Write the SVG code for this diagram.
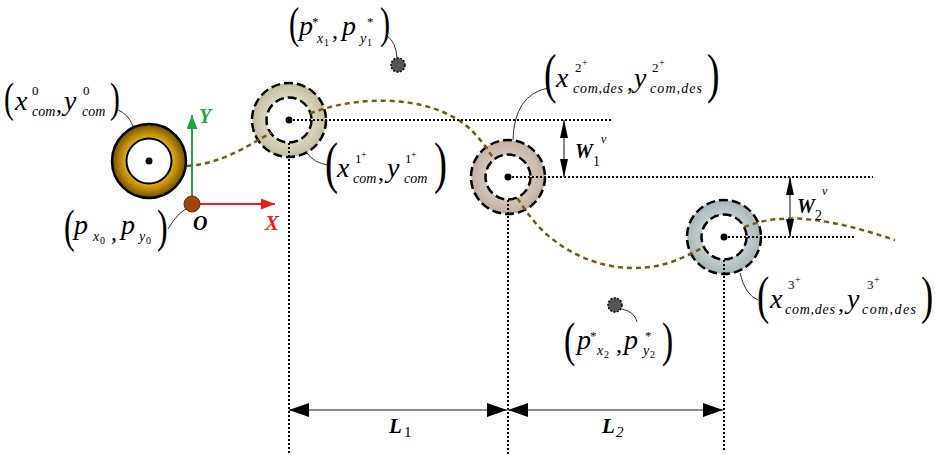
<svg xmlns="http://www.w3.org/2000/svg" width="935" height="455" viewBox="0 0 935 455">
<style>
.m{font-family:"Liberation Serif","Times New Roman",serif;font-style:italic;fill:#000}
.big{font-size:28px}
.sub{font-size:14px}
.ss{font-size:10px;font-style:normal}
.sup{font-size:13px;font-style:normal}
.pl{font-size:10px;font-style:normal}
.cm{font-size:24px;font-style:normal}
.up{font-style:normal}
.par{font-family:"Liberation Serif","Times New Roman",serif;fill:#000}
.bi{font-family:"Liberation Serif","Times New Roman",serif;font-style:italic;font-weight:bold}
.dot{stroke:#000;stroke-width:2;stroke-dasharray:2 2;fill:none}
.ringd{stroke:#000;stroke-width:2.5;stroke-dasharray:9 4}
.lead{fill:none;stroke:#333;stroke-width:1}
.dim{stroke:#666;stroke-width:1.6;fill:none}
</style>
<defs>
<radialGradient id="g0" cx="0.5" cy="0.5" r="0.5">
<stop offset="0.58" stop-color="#e6b522"/>
<stop offset="0.75" stop-color="#c08f0c"/>
<stop offset="1" stop-color="#6e4f00"/>
</radialGradient>
<radialGradient id="g1" cx="0.5" cy="0.5" r="0.5">
<stop offset="0.6" stop-color="#ddd8c2"/>
<stop offset="1" stop-color="#c4bea2"/>
</radialGradient>
<radialGradient id="g2" cx="0.5" cy="0.5" r="0.5">
<stop offset="0.6" stop-color="#d6c8be"/>
<stop offset="1" stop-color="#c0afa3"/>
</radialGradient>
<radialGradient id="g3" cx="0.5" cy="0.5" r="0.5">
<stop offset="0.6" stop-color="#c4cfd1"/>
<stop offset="1" stop-color="#a9b6b9"/>
</radialGradient>
<marker id="ah" viewBox="0 0 20 14" refX="20" refY="7" markerWidth="20" markerHeight="14" markerUnits="userSpaceOnUse" orient="auto-start-reverse">
<path d="M0,0 L20,7 L0,14 Z" fill="#000"/>
</marker>
<marker id="as" viewBox="0 0 18 8" refX="18" refY="4" markerWidth="18" markerHeight="8" markerUnits="userSpaceOnUse" orient="auto-start-reverse">
<path d="M0,0 L18,4 L0,8 Z" fill="#000"/>
</marker>
<marker id="ag" viewBox="0 0 14 11" refX="14" refY="5.5" markerWidth="14" markerHeight="11" markerUnits="userSpaceOnUse" orient="auto">
<path d="M0,0 L14,5.5 L0,11 Z" fill="#1fa64a"/>
</marker>
<marker id="ar" viewBox="0 0 14 11" refX="14" refY="5.5" markerWidth="14" markerHeight="11" markerUnits="userSpaceOnUse" orient="auto">
<path d="M0,0 L14,5.5 L0,11 Z" fill="#ee1c1c"/>
</marker>
<mask id="holes" maskUnits="userSpaceOnUse" x="0" y="0" width="935" height="455">
<rect x="0" y="0" width="935" height="455" fill="#fff"/>
<circle cx="289" cy="120" r="22" fill="#000"/>
<circle cx="508" cy="177" r="22" fill="#000"/>
<circle cx="724" cy="237" r="22" fill="#000"/>
</mask>
</defs>
<rect width="935" height="455" fill="#fff"/>

<g id="node-c0">
<circle cx="149" cy="161" r="37" fill="url(#g0)" stroke="#000" stroke-width="2.5"/>
<circle cx="149" cy="161" r="22.5" fill="#fff" stroke="#000" stroke-width="2"/>
<circle cx="149" cy="161" r="3.5" fill="#000"/>
</g>
<g id="node-c1">
<circle cx="289" cy="120" r="37" fill="url(#g1)" class="ringd"/>
<circle cx="289" cy="120" r="22.5" fill="#fff" class="ringd"/>
</g>
<g id="node-c2">
<circle cx="508" cy="177" r="37" fill="url(#g2)" class="ringd"/>
<circle cx="508" cy="177" r="22.5" fill="#fff" class="ringd"/>
</g>
<g id="node-c3">
<circle cx="724" cy="237" r="37" fill="url(#g3)" class="ringd"/>
<circle cx="724" cy="237" r="22.5" fill="#fff" class="ringd"/>
</g>
<g id="node-p1">
<circle cx="398" cy="65" r="7" fill="#555" stroke="#000" stroke-width="1.5" stroke-dasharray="2 1.5"/>
</g>
<g id="node-p2">
<circle cx="615" cy="305" r="7" fill="#555" stroke="#000" stroke-width="1.5" stroke-dasharray="2 1.5"/>
</g>

<g id="connectors">
<path d="M187,166 C240,162 265,128 320,110 C360,97 420,95 460,121 C495,145 505,190 540,228 C570,258 610,272 650,267 C690,262 720,232 760,222 C800,212 850,225 895,240" fill="none" stroke="#7a5a12" stroke-width="2.5" stroke-dasharray="5 4" mask="url(#holes)"/>
<line x1="289" y1="120" x2="613" y2="120" class="dot"/>
<line x1="508" y1="177" x2="873" y2="177" class="dot"/>
<line x1="724" y1="237" x2="855" y2="237" class="dot"/>
<line x1="289" y1="143" x2="289" y2="455" class="dot"/>
<line x1="508" y1="200" x2="508" y2="455" class="dot"/>
<line x1="724" y1="260" x2="724" y2="452" class="dot"/>
<line x1="192" y1="196" x2="192" y2="115" stroke="#1fa64a" stroke-width="2" marker-end="url(#ag)"/>
<line x1="199" y1="204" x2="275" y2="204" stroke="#ee1c1c" stroke-width="2" marker-end="url(#ar)"/>
<line x1="289" y1="410" x2="507" y2="410" class="dim" marker-start="url(#ah)" marker-end="url(#ah)"/>
<line x1="508" y1="410" x2="723" y2="410" class="dim" marker-start="url(#ah)" marker-end="url(#ah)"/>
<line x1="564" y1="120" x2="564" y2="177" class="dim" marker-start="url(#as)" marker-end="url(#as)"/>
<line x1="790" y1="177" x2="790" y2="237" class="dim" marker-start="url(#as)" marker-end="url(#as)"/>
<path d="M118,110 Q128,114 133,126" class="lead"/>
<path d="M387,36 Q396,42 397,58" class="lead"/>
<path d="M307,153 Q314,163 328,165" class="lead"/>
<path d="M168,229 Q178,212 188,208" class="lead"/>
<path d="M548,88 Q514,95 513,140" class="lead"/>
<path d="M740,273 Q745,295 758,300" class="lead"/>
<path d="M622,309 Q635,312 637,322" class="lead"/>
</g>

<g id="centers">
<circle cx="289" cy="120" r="3.5" fill="#000"/>
<circle cx="508" cy="177" r="3.5" fill="#000"/>
<circle cx="724" cy="237" r="3.5" fill="#000"/>
</g>

<g id="node-origin">
<circle cx="192" cy="204" r="8" fill="#a3440e" stroke="#6a2a05" stroke-width="1"/>
<text class="bi" x="193" y="230" font-size="20">O</text>
<text class="bi" x="199" y="123" font-size="20" fill="#1fa64a">Y</text>
<text class="bi" x="265" y="230" font-size="21" fill="#ee1c1c">X</text>
</g>

<g id="label-c0">
<text class="par" font-size="37" transform="translate(4,112) scale(0.8,1.15)">(</text>
<text class="m"><tspan class="big" x="15" y="110">x</tspan><tspan class="sup" x="32" y="95">0</tspan><tspan class="sub" x="32" y="116">com</tspan><tspan class="cm" x="56" y="112">,</tspan><tspan class="big" x="64" y="110">y</tspan><tspan class="sup" x="83" y="95">0</tspan><tspan class="sub" x="82" y="116">com</tspan></text>
<text class="par" font-size="37" transform="translate(110,112) scale(0.8,1.15)">)</text>
</g>

<g id="label-p1">
<text class="par" font-size="38" transform="translate(289,38) scale(0.8,1.15)">(</text>
<text class="m"><tspan class="big" x="299" y="35">p</tspan><tspan class="sup" x="312" y="26">*</tspan><tspan class="sub" x="317" y="43">x</tspan><tspan class="ss" x="324" y="46">1</tspan><tspan class="cm" x="332" y="38">,</tspan><tspan class="big" x="342" y="35">p</tspan><tspan class="sup" x="367" y="26">*</tspan><tspan class="sub" x="360" y="43">y</tspan><tspan class="ss" x="367" y="46">1</tspan></text>
<text class="par" font-size="38" transform="translate(380,38) scale(0.8,1.15)">)</text>
</g>

<g id="label-c1">
<text class="par" font-size="49" transform="translate(325,182) scale(0.8,1.15)">(</text>
<text class="m"><tspan class="big" x="337" y="177">x</tspan><tspan class="sup" x="355" y="163">1</tspan><tspan class="pl" x="361" y="158">+</tspan><tspan class="sub" x="353" y="183">com</tspan><tspan class="cm" x="378" y="180">,</tspan><tspan class="big" x="387" y="177">y</tspan><tspan class="sup" x="405" y="163">1</tspan><tspan class="pl" x="411" y="158">+</tspan><tspan class="sub" x="404" y="183">com</tspan></text>
<text class="par" font-size="49" transform="translate(434,182) scale(0.8,1.15)">)</text>
</g>

<g id="label-origin">
<text class="par" font-size="40" transform="translate(64,242) scale(0.8,1.15)">(</text>
<text class="m"><tspan class="big" x="74" y="234">p</tspan><tspan class="sub" x="93" y="241">x</tspan><tspan class="ss" x="100" y="244">0</tspan><tspan class="cm" x="111" y="240">,</tspan><tspan class="big" x="121" y="234">p</tspan><tspan class="sub" x="139" y="241">y</tspan><tspan class="ss" x="146" y="244">0</tspan></text>
<text class="par" font-size="40" transform="translate(157,242) scale(0.8,1.15)">)</text>
</g>

<g id="label-c2">
<text class="par" font-size="47" transform="translate(544,92) scale(0.8,1.15)">(</text>
<text class="m"><tspan class="big" x="556" y="87">x</tspan><tspan class="sup" x="575" y="72">2</tspan><tspan class="pl" x="582" y="66">+</tspan><tspan class="sub" x="573" y="93" textLength="50">com,des</tspan><tspan class="cm" x="627" y="90">,</tspan><tspan class="big" x="634" y="87">y</tspan><tspan class="sup" x="652" y="72">2</tspan><tspan class="pl" x="659" y="66">+</tspan><tspan class="sub" x="650" y="93" textLength="52">com,des</tspan></text>
<text class="par" font-size="47" transform="translate(707,92) scale(0.8,1.15)">)</text>
</g>

<g id="label-c3">
<text class="par" font-size="46" transform="translate(757,313) scale(0.8,1.15)">(</text>
<text class="m"><tspan class="big" x="770" y="308">x</tspan><tspan class="sup" x="788" y="289">3</tspan><tspan class="pl" x="795" y="283">+</tspan><tspan class="sub" x="785" y="314" textLength="50">com,des</tspan><tspan class="cm" x="838" y="311">,</tspan><tspan class="big" x="847" y="308">y</tspan><tspan class="sup" x="867" y="289">3</tspan><tspan class="pl" x="874" y="283">+</tspan><tspan class="sub" x="862" y="314" textLength="54">com,des</tspan></text>
<text class="par" font-size="46" transform="translate(921,313) scale(0.8,1.15)">)</text>
</g>

<g id="label-p2">
<text class="par" font-size="42" transform="translate(564,356) scale(0.8,1.15)">(</text>
<text class="m"><tspan class="big" x="577" y="349">p</tspan><tspan class="sup" x="590" y="340">*</tspan><tspan class="sub" x="597" y="355">x</tspan><tspan class="ss" x="604" y="358">2</tspan><tspan class="cm" x="616" y="352">,</tspan><tspan class="big" x="624" y="349">p</tspan><tspan class="sup" x="645" y="340">*</tspan><tspan class="sub" x="643" y="355">y</tspan><tspan class="ss" x="650" y="358">2</tspan></text>
<text class="par" font-size="42" transform="translate(662,356) scale(0.8,1.15)">)</text>
</g>

<g id="dim-labels">
<text class="bi" x="575" y="158" font-size="20">W</text>
<text class="m up" x="593" y="166" font-size="14">1</text>
<text class="m" x="601" y="143" font-size="12">v</text>
<text class="bi" x="797" y="213" font-size="20">W</text>
<text class="m up" x="815" y="220" font-size="14">2</text>
<text class="m" x="822" y="195" font-size="12">v</text>
<text class="bi" x="389" y="433" font-size="21">L</text>
<text class="m up" x="404" y="437" font-size="15">1</text>
<text class="bi" x="602" y="433" font-size="21">L</text>
<text class="m" x="616" y="437" font-size="15">2</text>
</g>
</svg>
